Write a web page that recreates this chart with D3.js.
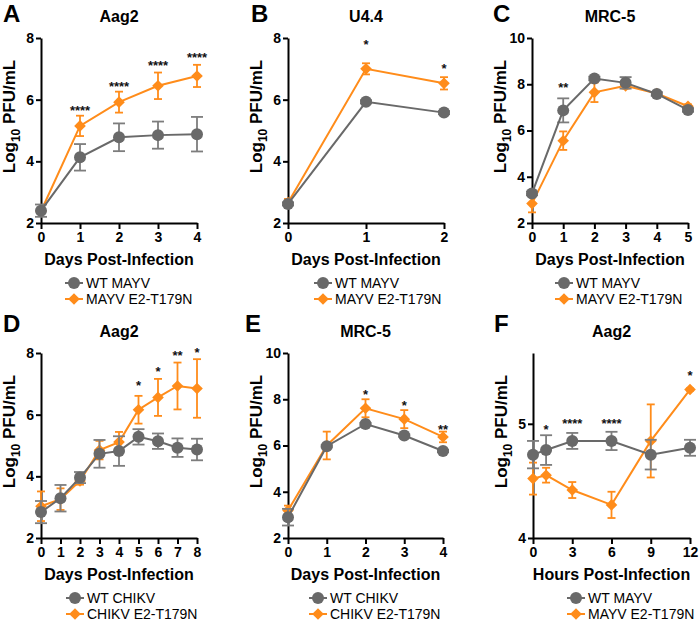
<!DOCTYPE html>
<html><head><meta charset="utf-8">
<script src="https://cdn.jsdelivr.net/npm/d3@7/dist/d3.min.js"></script>
<style>body{margin:0;background:#fff}svg{display:block}</style>
</head><body>
<svg id="c" width="700" height="624"></svg>
<script>
// ---------- DATA ----------
// Panel A: Aag2, MAYV
const aX = [0, 1, 2, 3, 4];
const aWT = [2.40, 4.13, 4.78, 4.85, 4.88];
const aWTsd = [0.20, 0.43, 0.45, 0.44, 0.56];
const aMut = [2.38, 5.15, 5.92, 6.45, 6.77];
const aMutSd = [0.08, 0.33, 0.34, 0.43, 0.36];
const aStars = ["", "****", "****", "****", "****"];
const aStarY = [null, 5.76, 6.54, 7.19, 7.48];
// Panel B: U4.4, MAYV
const bX = [0, 1, 2];
const bWT = [2.62, 5.93, 5.58];
const bWTsd = [0.05, 0.05, 0.05];
const bMut = [2.66, 7.00, 6.53];
const bMutSd = [0.12, 0.18, 0.2];
const bStars = ["", "*", "*"];
const bStarY = [null, 7.89, 7.10];
// Panel C: MRC-5, MAYV
const cX = [0, 1, 2, 3, 4, 5];
const cWT = [3.28, 6.87, 8.25, 8.06, 7.58, 6.89];
const cWTsd = [0.08, 0.52, 0.08, 0.25, 0.08, 0.08];
const cMut = [2.84, 5.56, 7.65, 7.93, 7.60, 7.05];
const cMutSd = [0.38, 0.40, 0.42, 0.12, 0.08, 0.08];
const cStars = ["", "**", "", "", "", ""];
const cStarY = [null, 7.97, null, null, null, null];
// Panel D: Aag2, CHIKV
const dX = [0, 1, 2, 3, 4, 5, 6, 7, 8];
const dWT = [2.84, 3.29, 3.96, 4.73, 4.82, 5.28, 5.14, 4.93, 4.87];
const dWTsd = [0.36, 0.43, 0.18, 0.45, 0.48, 0.25, 0.25, 0.30, 0.35];
const dMut = [3.03, 3.26, 3.85, 4.85, 5.11, 6.16, 6.56, 6.93, 6.85];
const dMutSd = [0.48, 0.35, 0.12, 0.30, 0.33, 0.45, 0.60, 0.76, 0.95];
const dStars = ["", "", "", "", "", "*", "*", "**", "*"];
const dStarY = [null, null, null, null, null, 7.04, 7.50, 8.03, 8.12];
// Panel E: MRC-5, CHIKV
const eX = [0, 1, 2, 3, 4];
const eWT = [2.90, 5.97, 6.93, 6.43, 5.76];
const eWTsd = [0.36, 0.05, 0.05, 0.05, 0.05];
const eMut = [3.19, 6.00, 7.61, 7.14, 6.37];
const eMutSd = [0.21, 0.60, 0.39, 0.39, 0.23];
const eStars = ["", "", "*", "*", "**"];
const eStarY = [null, null, 8.33, 7.86, 6.83];
// Panel F: Aag2, MAYV, hours
const fX = [0, 1, 3, 6, 9, 12];
const fWT = [4.73, 4.77, 4.85, 4.85, 4.73, 4.79];
const fWTsd = [0.12, 0.13, 0.07, 0.08, 0.13, 0.07];
const fMut = [4.52, 4.55, 4.42, 4.29, 4.85, 5.30];
const fMutSd = [0.14, 0.065, 0.07, 0.115, 0.32, 0.01];
const fStars = ["", "*", "****", "****", "", "*"];
const fStarY = [null, 4.98, 5.03, 5.03, null, 5.45];

const ticksDays4 = [0, 1, 2, 3, 4];
const ticksDays2 = [0, 1, 2];
const ticksDays5 = [0, 1, 2, 3, 4, 5];
const ticksDays8 = [0, 1, 2, 3, 4, 5, 6, 7, 8];
const ticksHours = [0, 3, 6, 9, 12];
const yTicks8 = [2, 4, 6, 8];
const yTicks10 = [2, 4, 6, 8, 10];
const yTicksF = [4, 5];

// ---------- STYLE ----------
const ORANGE = "#FF8C1A";
const GREY = "#696969";
const GREY_ERR = "#7d7d7d";
const FONT = "'Liberation Sans', Arial, Helvetica, sans-serif";

const svg = d3.select("#c");

const panels = [
  {letter: "A", lx: 3, title: "Aag2", x: aX, wt: aWT, wtSd: aWTsd, mut: aMut, mutSd: aMutSd, stars: aStars, starY: aStarY,
   xDomain: [0, 4], xTicks: ticksDays4, yDomain: [2, 8], yTicks: yTicks8, xLabel: "Days Post-Infection",
   names: ["WT MAYV", "MAYV E2-T179N"], left: 41, right: 197, row: 0, legX: 74, legTX: 86},
  {letter: "B", lx: 251, title: "U4.4", x: bX, wt: bWT, wtSd: bWTsd, mut: bMut, mutSd: bMutSd, stars: bStars, starY: bStarY,
   xDomain: [0, 2], xTicks: ticksDays2, yDomain: [2, 8], yTicks: yTicks8, xLabel: "Days Post-Infection",
   names: ["WT MAYV", "MAYV E2-T179N"], left: 288, right: 444, row: 0, legX: 323, legTX: 335},
  {letter: "C", lx: 493, title: "MRC-5", x: cX, wt: cWT, wtSd: cWTsd, mut: cMut, mutSd: cMutSd, stars: cStars, starY: cStarY,
   xDomain: [0, 5], xTicks: ticksDays5, yDomain: [2, 10], yTicks: yTicks10, xLabel: "Days Post-Infection",
   names: ["WT MAYV", "MAYV E2-T179N"], left: 532, right: 688, row: 0, legX: 564, legTX: 576},
  {letter: "D", lx: 3, title: "Aag2", x: dX, wt: dWT, wtSd: dWTsd, mut: dMut, mutSd: dMutSd, stars: dStars, starY: dStarY,
   xDomain: [0, 8], xTicks: ticksDays8, yDomain: [2, 8], yTicks: yTicks8, xLabel: "Days Post-Infection",
   names: ["WT CHIKV", "CHIKV E2-T179N"], left: 41, right: 197, row: 1, legX: 75, legTX: 87},
  {letter: "E", lx: 245, title: "MRC-5", x: eX, wt: eWT, wtSd: eWTsd, mut: eMut, mutSd: eMutSd, stars: eStars, starY: eStarY,
   xDomain: [0, 4], xTicks: ticksDays4, yDomain: [2, 10], yTicks: yTicks10, xLabel: "Days Post-Infection",
   names: ["WT CHIKV", "CHIKV E2-T179N"], left: 288, right: 443, row: 1, legX: 318, legTX: 330},
  {letter: "F", lx: 494, title: "Aag2", x: fX, wt: fWT, wtSd: fWTsd, mut: fMut, mutSd: fMutSd, stars: fStars, starY: fStarY,
   xDomain: [0, 12], xTicks: ticksHours, yDomain: [4, 5.62], yTicks: yTicksF, xLabel: "Hours Post-Infection",
   names: ["WT MAYV", "MAYV E2-T179N"], left: 533, right: 690, row: 1, legX: 576, legTX: 588}
];

const rows = [{top: 38, bottom: 223, letterY: 22, titleY: 22}, {top: 353, bottom: 538, letterY: 332, titleY: 337}];

function diamondPath(r) {
  return `M0,${-r}L${r},0L0,${r}L${-r},0Z`;
}

function drawMarker(g, cx, cy, kind) {
  if (kind === "wt") {
    g.append("circle").attr("cx", cx).attr("cy", cy).attr("r", 6).attr("fill", GREY);
  } else {
    g.append("path").attr("d", diamondPath(5.8)).attr("transform", `translate(${cx},${cy})`).attr("fill", ORANGE);
  }
}

panels.forEach(p => {
  const r = rows[p.row];
  const g = svg.append("g");
  const x = d3.scaleLinear().domain(p.xDomain).range([p.left, p.right]);
  const y = d3.scaleLinear().domain(p.yDomain).range([r.bottom, r.top]);

  // panel letter and title
  g.append("text").attr("x", p.lx).attr("y", r.letterY).text(p.letter)
    .attr("font-family", FONT).attr("font-weight", "bold").attr("font-size", 24).attr("fill", "#000");
  g.append("text").attr("x", (p.left + p.right) / 2).attr("y", r.titleY).text(p.title)
    .attr("text-anchor", "middle").attr("font-family", FONT).attr("font-weight", "bold").attr("font-size", 16).attr("fill", "#000");

  // axes
  const xa = g.append("g").attr("transform", `translate(0,${r.bottom})`)
    .call(d3.axisBottom(x).tickValues(p.xTicks).tickSize(6).tickSizeOuter(0).tickPadding(3).tickFormat(d3.format("d")));
  const ya = g.append("g").attr("transform", `translate(${p.left},0)`)
    .call(d3.axisLeft(y).tickValues(p.yTicks).tickSize(5).tickSizeOuter(0).tickPadding(2).tickFormat(d3.format("d")));
  [xa, ya].forEach(a => {
    a.select(".domain").attr("stroke", "#000").attr("stroke-width", 2);
    a.selectAll(".tick line").attr("stroke", "#000").attr("stroke-width", 2);
    a.selectAll(".tick text").attr("font-family", FONT).attr("font-weight", "bold").attr("font-size", 14).attr("fill", "#000");
  });

  // axis labels
  g.append("text").attr("x", (p.left + p.right) / 2).attr("y", r.bottom + 42).text(p.xLabel)
    .attr("text-anchor", "middle").attr("font-family", FONT).attr("font-weight", "bold").attr("font-size", 16).attr("fill", "#000");
  const yl = g.append("text")
    .attr("transform", `translate(${p.left - 26},${(r.top + r.bottom) / 2 - 14}) rotate(-90)`)
    .attr("text-anchor", "middle").attr("font-family", FONT).attr("font-weight", "bold").attr("font-size", 17).attr("fill", "#000");
  yl.append("tspan").text("Log");
  yl.append("tspan").text("10").attr("font-size", 12).attr("dy", 5);
  yl.append("tspan").text(" PFU/mL").attr("dy", -5);

  // series: mutant first, WT on top
  const series = [
    {kind: "mut", vals: p.mut, sd: p.mutSd, color: ORANGE, errColor: ORANGE, cap: 4},
    {kind: "wt", vals: p.wt, sd: p.wtSd, color: GREY, errColor: GREY_ERR, cap: 6}
  ];
  series.forEach(s => {
    const sg = g.append("g");
    p.x.forEach((xv, i) => {
      const lo = y(s.vals[i] - s.sd[i]), hi = y(s.vals[i] + s.sd[i]), cx = x(xv);
      sg.append("line").attr("x1", cx).attr("x2", cx).attr("y1", lo).attr("y2", hi)
        .attr("stroke", s.errColor).attr("stroke-width", 1.8);
      [lo, hi].forEach(yy => sg.append("line").attr("x1", cx - s.cap).attr("x2", cx + s.cap).attr("y1", yy).attr("y2", yy)
        .attr("stroke", s.errColor).attr("stroke-width", 1.8));
    });
    const line = d3.line().x((d, i) => x(p.x[i])).y(d => y(d));
    sg.append("path").attr("d", line(s.vals)).attr("fill", "none").attr("stroke", s.color).attr("stroke-width", 2);
    p.x.forEach((xv, i) => drawMarker(sg, x(xv), y(s.vals[i]), s.kind));
  });

  // significance stars
  p.stars.forEach((st, i) => {
    if (!st) return;
    g.append("text").attr("x", x(p.x[i])).attr("y", y(p.starY[i]) + 7.5).text(st)
      .attr("text-anchor", "middle").attr("font-family", FONT).attr("font-weight", "bold").attr("font-size", 13).attr("fill", "#111");
  });

  // legend
  [["wt", GREY, p.names[0], 0], ["mut", ORANGE, p.names[1], 1]].forEach(([kind, col, name, k]) => {
    const ly = r.bottom + 60 + k * 16;
    g.append("line").attr("x1", p.legX - 9).attr("x2", p.legX + 9).attr("y1", ly).attr("y2", ly)
      .attr("stroke", col).attr("stroke-width", 2);
    drawMarker(g, p.legX, ly, kind);
    g.append("text").attr("x", p.legTX).attr("y", ly + 5).text(name)
      .attr("font-family", FONT).attr("font-size", 14).attr("fill", "#000");
  });
});
</script>
</body></html>
